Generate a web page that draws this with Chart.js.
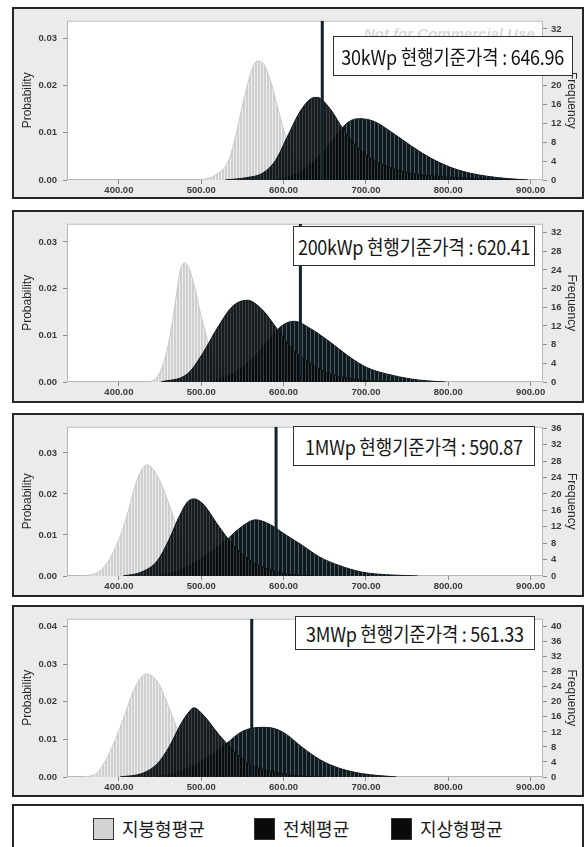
<!DOCTYPE html>
<html>
<head>
<meta charset="utf-8">
<script src="https://cdn.jsdelivr.net/npm/chart.js@4.4.1/dist/chart.umd.min.js"></script>
<style>
body { margin: 0; width: 588px; height: 847px; background: #fff; position: relative; overflow: hidden; font-family: 'Liberation Sans', Arial, sans-serif; }
.panel { position: absolute; left: 12px; width: 572px; box-sizing: border-box; border: 2px solid #262626; background: #ebebeb; }
.panel canvas { position: absolute; left: 0; top: 0; }
.note { position: absolute; box-sizing: border-box; background: #fff; border: 1.5px solid #303030; display: flex; align-items: center; justify-content: center; white-space: nowrap; z-index: 3; }
.note span { display: inline-block; font-family: 'Liberation Sans Narrow', 'Noto Sans CJK KR', sans-serif; font-size: 20px; color: #151515; transform: scaleX(0.9); letter-spacing: -0.3px; }
.watermark { position: absolute; z-index: 2; font: italic bold 15px 'Liberation Sans', Arial, sans-serif; color: #dadada; white-space: nowrap; }
.legend { position: absolute; left: 12px; top: 804px; width: 572px; height: 60px; box-sizing: border-box; border: 2px solid #262626; background: #fff; }
.swatch { position: absolute; top: 12px; width: 21px; height: 22px; box-sizing: border-box; border: 1.5px solid #333; }
.legend-text { position: absolute; top: 10px; font: 18px 'Noto Sans CJK KR', sans-serif; color: #1a1a1a; line-height: 24px; }
</style>
</head>
<body>
<script>
// price axis ticks and axis tick sets
const xTicks = [400, 500, 600, 700, 800, 900];
const probTicks3 = [0, 0.01, 0.02, 0.03];
const probTicks4 = [0, 0.01, 0.02, 0.03, 0.04];
const freqTicks32 = [0, 4, 8, 12, 16, 20, 24, 28, 32];
const freqTicks36 = [0, 4, 8, 12, 16, 20, 24, 28, 32, 36];
const freqTicks40 = [0, 4, 8, 12, 16, 20, 24, 28, 32, 36, 40];

// capacity classes and current standard price
const sizes = ['30kWp', '200kWp', '1MWp', '3MWp'];
const basePrices = [646.96, 620.41, 590.87, 561.33];
const seriesNames = ['지붕형평균', '전체평균', '지상형평균'];

// [price, probability]
const roof30 = [[500, 0], [517, 0.001], [533, 0.004], [542, 0.0095], [551, 0.0165], [559, 0.022], [568, 0.0252], [576, 0.0245], [585, 0.0205], [594, 0.0145], [603, 0.009], [613, 0.0052], [626, 0.0022], [643, 0.0006], [660, 0]];
const total30 = [[529, 0], [555, 0.0005], [574, 0.0014], [590, 0.0041], [606, 0.0097], [620, 0.0145], [633, 0.0172], [641, 0.0175], [656, 0.0152], [674, 0.0103], [690, 0.0069], [711, 0.0041], [733, 0.0024], [756, 0.0014], [792, 0.0007], [847, 0.0002], [892, 0]];
const ground30 = [[590, 0], [615, 0.0012], [640, 0.0045], [660, 0.0085], [678, 0.0122], [692, 0.013], [710, 0.0124], [733, 0.0099], [756, 0.0071], [779, 0.0046], [801, 0.0028], [825, 0.0015], [847, 0.0008], [872, 0.0003], [897, 0]];

const roof200 = [[438, 0], [447, 0.0012], [455, 0.0045], [462, 0.0098], [469, 0.0175], [474, 0.0235], [479, 0.0255], [485, 0.0245], [492, 0.0203], [498, 0.0155], [503, 0.012], [509, 0.008], [515, 0.0052], [529, 0.0017], [547, 0.0003], [560, 0]];
const total200 = [[451, 0], [483, 0.0017], [501, 0.0059], [519, 0.0114], [538, 0.0162], [556, 0.0175], [574, 0.0155], [592, 0.0114], [610, 0.0072], [629, 0.0045], [651, 0.0021], [683, 0.0007], [710, 0.0002], [740, 0]];
const ground200 = [[510, 0], [540, 0.002], [565, 0.0055], [585, 0.0098], [600, 0.0123], [613, 0.013], [633, 0.0114], [656, 0.0086], [679, 0.0055], [701, 0.0031], [733, 0.0014], [765, 0.0004], [797, 0]];

const roof1 = [[360, 0], [378, 0.0014], [396, 0.0069], [410, 0.0148], [421, 0.0227], [434, 0.0271], [447, 0.0243], [460, 0.018], [472, 0.0109], [483, 0.0054], [497, 0.0018], [511, 0.0006], [529, 0]];
const total1 = [[405, 0], [428, 0.001], [447, 0.0038], [460, 0.0085], [474, 0.0148], [483, 0.018], [491, 0.0188], [502, 0.0176], [520, 0.0125], [538, 0.0077], [557, 0.0042], [575, 0.0022], [602, 0.0006], [634, 0]];
const ground1 = [[447, 0], [474, 0.0014], [502, 0.0046], [529, 0.0085], [547, 0.0117], [566, 0.0137], [584, 0.0125], [602, 0.0101], [621, 0.0077], [644, 0.0046], [667, 0.0026], [694, 0.001], [712, 0.0005], [763, 0]];

const roof3 = [[357, 0], [373, 0.001], [392, 0.008], [406, 0.0158], [419, 0.0235], [433, 0.0274], [447, 0.0253], [458, 0.02], [470, 0.0132], [481, 0.0071], [493, 0.0028], [511, 0.0006], [530, 0]];
const total3 = [[401, 0], [429, 0.001], [447, 0.0036], [461, 0.008], [475, 0.014], [484, 0.017], [491, 0.0184], [502, 0.0166], [521, 0.0114], [539, 0.0071], [557, 0.0036], [585, 0.0015], [622, 0.0002], [649, 0]];
const ground3 = [[447, 0], [475, 0.0015], [502, 0.0045], [530, 0.0088], [548, 0.0119], [565, 0.0131], [576, 0.0132], [590, 0.0128], [603, 0.0114], [622, 0.008], [645, 0.0045], [668, 0.0023], [695, 0.0009], [737, 0]];

// layout of each panel on the page
const panels =
[
    { roof: roof30, total: total30, ground: ground30, probTicks: probTicks3, freqTicks: freqTicks32, probMax: 0.03375, top: 7, bottom: 199, plotTop: 17, plotBottom: 180, note: [333, 36, 240, 40] },
    { roof: roof200, total: total200, ground: ground200, probTicks: probTicks3, freqTicks: freqTicks32, probMax: 0.0339, top: 210, bottom: 403, plotTop: 218, plotBottom: 382, note: [293, 226, 242, 40] },
    { roof: roof1, total: total1, ground: ground1, probTicks: probTicks3, freqTicks: freqTicks36, probMax: 0.0364, top: 413, bottom: 597, plotTop: 422, plotBottom: 576, note: [293, 426, 242, 40] },
    { roof: roof3, total: total3, ground: ground3, probTicks: probTicks4, freqTicks: freqTicks40, probMax: 0.0421, top: 605, bottom: 797, plotTop: 615, plotBottom: 777, note: [295, 616, 240, 34] }
];

function stripes(base, line, period)
{
    const c = document.createElement('canvas');
    c.width = period;
    c.height = 8;
    const g = c.getContext('2d');
    g.fillStyle = base;
    g.fillRect(0, 0, period, 8);
    g.fillStyle = line;
    g.fillRect(0, 0, 1, 8);
    return g.createPattern(c, 'repeat');
}

const roofFill = stripes('#cfcfcf', '#eeeeee', 3);
const totalFill = stripes('rgba(6,11,13,0.93)', 'rgba(70,80,85,0.7)', 3);
const groundFill = stripes('#0f1a1f', '#4d5a60', 4);

const plotFrame =
{
    id: 'plotFrame',
    beforeDraw(chart)
    {
        const a = chart.chartArea;
        const ctx = chart.ctx;
        ctx.save();
        ctx.fillStyle = '#fff';
        ctx.fillRect(a.left, a.top, a.right - a.left, a.bottom - a.top);
        ctx.strokeStyle = '#b8b8b8';
        ctx.lineWidth = 1;
        ctx.strokeRect(a.left + 0.5, a.top + 0.5, a.right - a.left - 1, a.bottom - a.top - 1);
        ctx.restore();
    }
};

const toPoints = arr => arr.map(p => ({ x: p[0], y: p[1] }));

panels.forEach((p, i) =>
{
    const div = document.createElement('div');
    div.className = 'panel';
    div.style.top = p.top + 'px';
    div.style.height = (p.bottom - p.top) + 'px';
    document.body.appendChild(div);

    const w = 568;
    const h = p.bottom - p.top - 4;
    const canvas = document.createElement('canvas');
    canvas.width = w;
    canvas.height = h;
    canvas.style.width = w + 'px';
    canvas.style.height = h + 'px';
    div.appendChild(canvas);

    const padTop = p.plotTop - p.top - 2;
    const xAxisH = (p.bottom - 2) - p.plotBottom;

    const note = document.createElement('div');
    note.className = 'note';
    note.style.left = p.note[0] + 'px';
    note.style.top = p.note[1] + 'px';
    note.style.width = p.note[2] + 'px';
    note.style.height = p.note[3] + 'px';
    note.innerHTML = '<span>' + sizes[i] + ' 현행기준가격 : ' + basePrices[i].toFixed(2) + '</span>';
    document.body.appendChild(note);

    if (i === 0)
    {
        const wm = document.createElement('div');
        wm.className = 'watermark';
        wm.style.left = '364px';
        wm.style.top = '25px';
        wm.textContent = 'Not for Commercial Use';
        document.body.appendChild(wm);
    }

    const tickFont = { family: "'Liberation Sans', Arial, sans-serif", size: 9.5, weight: 'bold' };
    const titleFont = { family: "'Liberation Sans', Arial, sans-serif", size: 12 };

    new Chart(canvas.getContext('2d'),
    {
        type: 'line',
        data:
        {
            datasets:
            [
                {
                    label: '현행기준가격',
                    data: [{ x: basePrices[i], y: 0 }, { x: basePrices[i], y: p.probMax }],
                    borderColor: '#142127',
                    borderWidth: 3,
                    pointRadius: 0,
                    fill: false,
                    order: 0
                },
                {
                    label: seriesNames[1],
                    data: toPoints(p.total),
                    backgroundColor: totalFill,
                    borderColor: '#0b1316',
                    borderWidth: 1,
                    pointRadius: 0,
                    fill: 'origin',
                    cubicInterpolationMode: 'monotone',
                    order: 1
                },
                {
                    label: seriesNames[2],
                    data: toPoints(p.ground),
                    backgroundColor: groundFill,
                    borderColor: '#0f1a1f',
                    borderWidth: 1,
                    pointRadius: 0,
                    fill: 'origin',
                    cubicInterpolationMode: 'monotone',
                    order: 2
                },
                {
                    label: seriesNames[0],
                    data: toPoints(p.roof),
                    backgroundColor: roofFill,
                    borderColor: '#c8c8c8',
                    borderWidth: 1,
                    pointRadius: 0,
                    fill: 'origin',
                    cubicInterpolationMode: 'monotone',
                    order: 3
                }
            ]
        },
        options:
        {
            responsive: false,
            animation: false,
            layout: { padding: { top: padTop, left: 0, right: 0, bottom: 0 } },
            plugins:
            {
                legend: { display: false },
                tooltip: { enabled: false }
            },
            scales:
            {
                x:
                {
                    type: 'linear',
                    min: 337,
                    max: 915,
                    afterBuildTicks: s => { s.ticks = xTicks.map(v => ({ value: v })); },
                    afterFit: s => { s.height = xAxisH; },
                    grid: { drawOnChartArea: false, tickLength: 4, color: '#8c8c8c' },
                    border: { display: false },
                    ticks: { font: tickFont, color: '#3a3a3a', padding: 1, maxRotation: 0, autoSkip: false, callback: v => v.toFixed(2) }
                },
                y:
                {
                    position: 'left',
                    min: 0,
                    max: p.probMax,
                    afterBuildTicks: s => { s.ticks = p.probTicks.map(v => ({ value: v })); },
                    afterFit: s => { s.width = 53; },
                    grid: { drawOnChartArea: false, tickLength: 4, color: '#8c8c8c' },
                    border: { display: false },
                    title: { display: true, text: 'Probability', color: '#2a2a2a', font: titleFont, padding: { top: 6, bottom: 0 } },
                    ticks: { font: tickFont, color: '#3a3a3a', padding: 6, autoSkip: false, callback: v => v.toFixed(2) }
                },
                y1:
                {
                    position: 'right',
                    min: 0,
                    max: p.probMax * 1000,
                    afterBuildTicks: s => { s.ticks = p.freqTicks.map(v => ({ value: v })); },
                    afterFit: s => { s.width = 39; },
                    grid: { drawOnChartArea: false, tickLength: 4, color: '#8c8c8c' },
                    border: { display: false },
                    title: { display: true, text: 'Frequency', color: '#2a2a2a', font: titleFont, padding: { top: 3, bottom: 0 } },
                    ticks: { font: tickFont, color: '#3a3a3a', padding: 4, autoSkip: false, callback: v => String(v) }
                }
            }
        },
        plugins: [plotFrame]
    });
});

// shared legend
const legend = document.createElement('div');
legend.className = 'legend';
document.body.appendChild(legend);
const swatchLeft = [79, 240, 377];
const swatchColor = ['#d3d3d3', '#0a0a0a', '#0a0a0a'];
seriesNames.forEach((name, k) =>
{
    const sw = document.createElement('div');
    sw.className = 'swatch';
    sw.style.left = swatchLeft[k] + 'px';
    sw.style.background = swatchColor[k];
    legend.appendChild(sw);
    const t = document.createElement('div');
    t.className = 'legend-text';
    t.style.left = (swatchLeft[k] + 29) + 'px';
    t.textContent = name;
    legend.appendChild(t);
});
</script>
</body>
</html>
